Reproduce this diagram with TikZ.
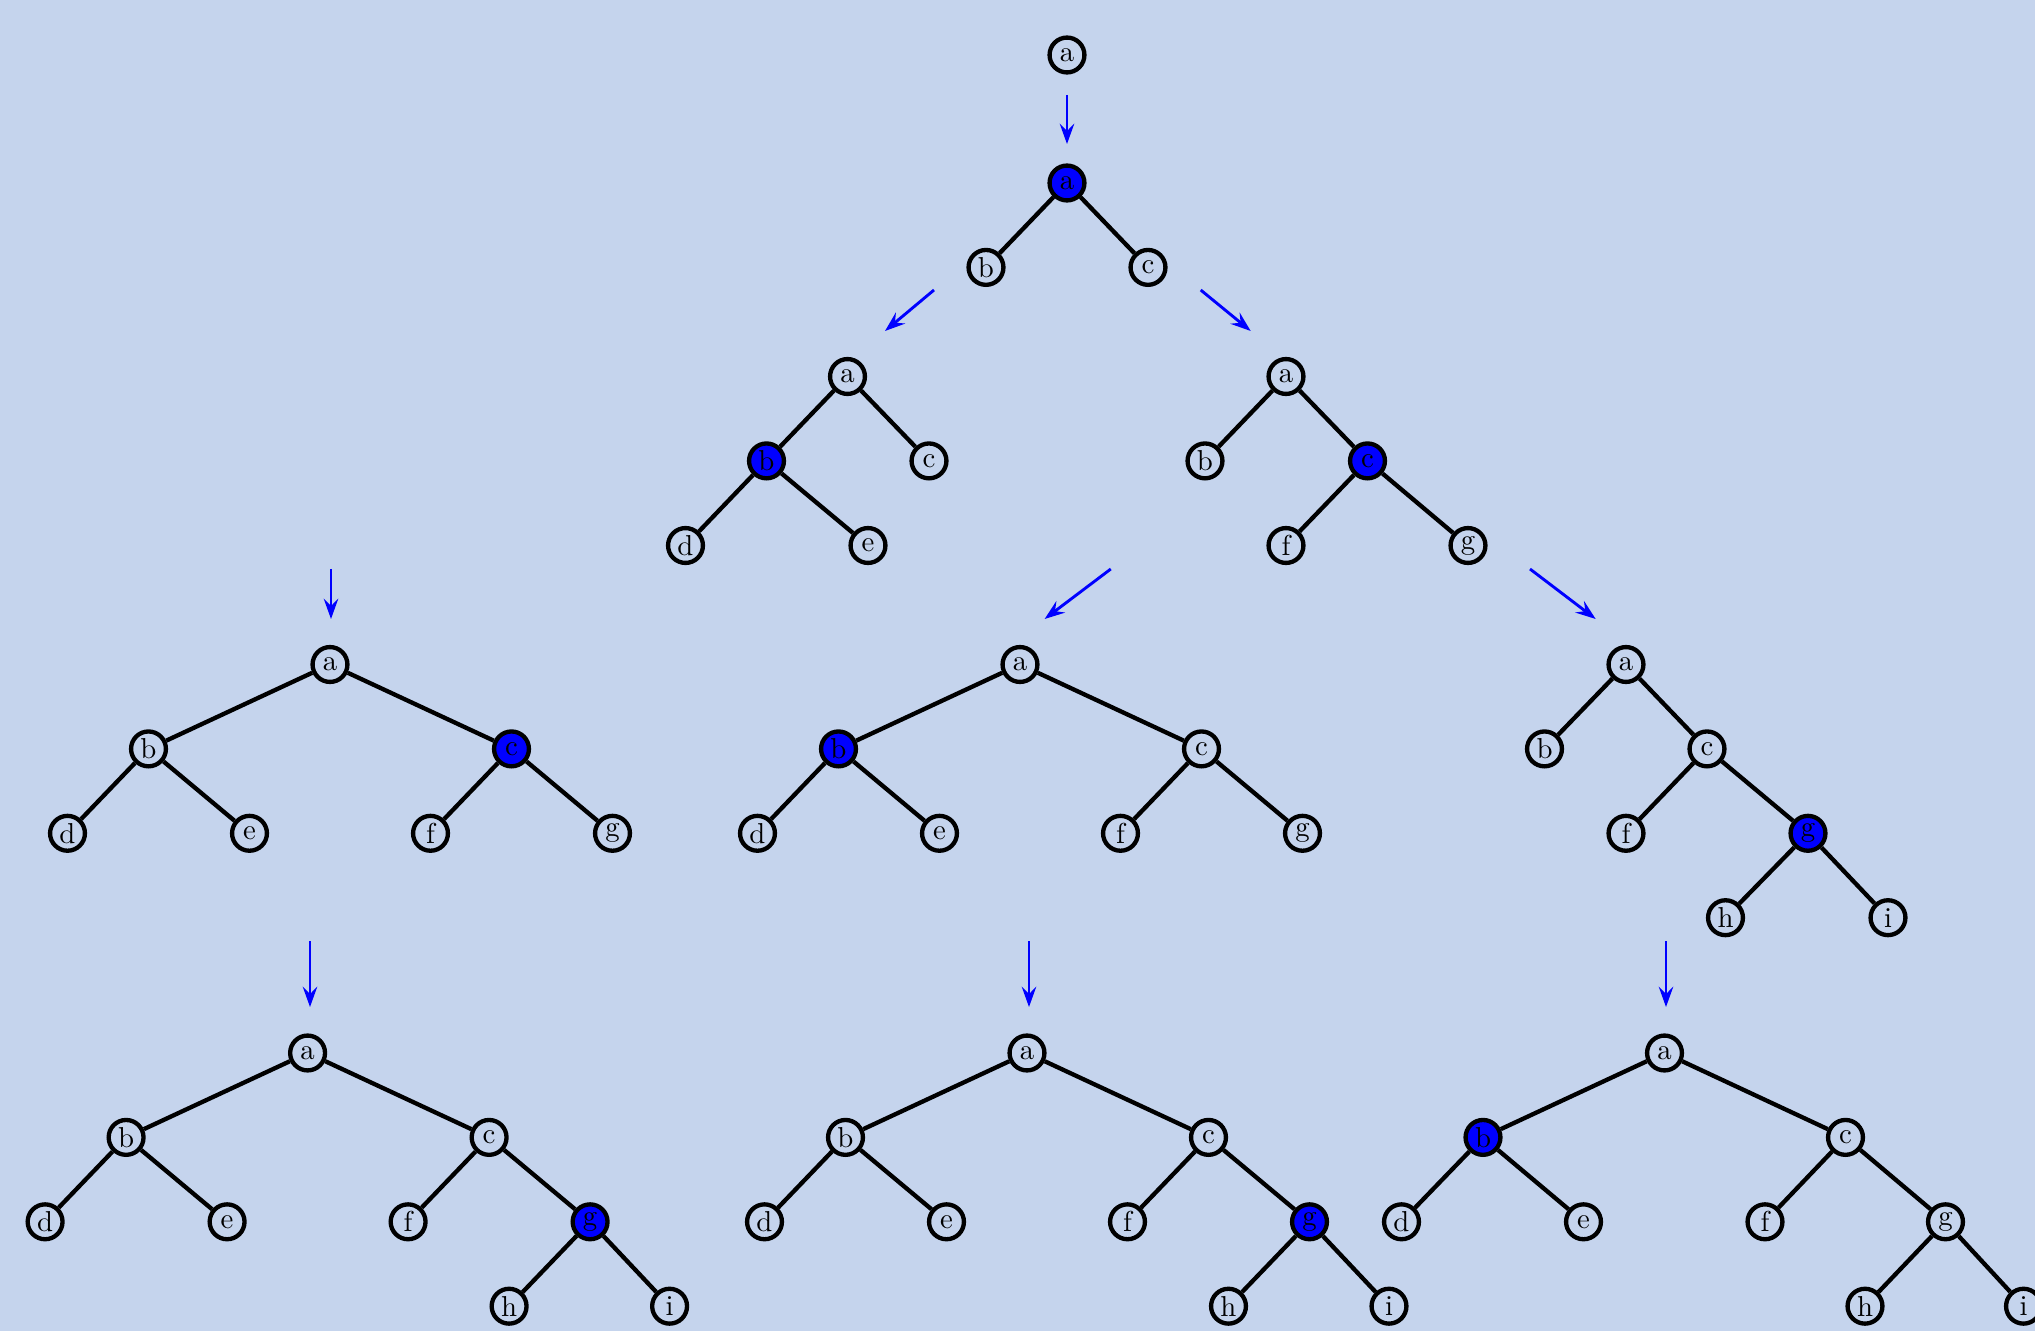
\documentclass[tikz,border=0pt]{standalone}
\usetikzlibrary{arrows.meta}
\definecolor{bgc}{RGB}{197,212,237}
\begin{document}
\begin{tikzpicture}[x=0.347pt,y=-0.347pt,
  nd/.style={circle,draw=black,line width=1.5pt,minimum size=12.1pt,inner sep=0pt,font=\normalsize},
  hl/.style={nd,fill=blue},
  edge/.style={line width=1.5pt},
  arr/.style={draw=blue,line width=1pt,-{Stealth[length=7pt,width=5pt,inset=2.5pt]}}]
\useasboundingbox (0,0) rectangle (2035,1331);
\fill[bgc] (0,0) rectangle (2035,1331);
\clip (0,0) rectangle (2035,1331);

% tree 0
\node[nd] (t0a) at (1067,55) {a};

% tree 1
\begin{scope}[shift={(1067,183)}]
\node[hl] (t1a) at (0,0) {a};
\node[nd] (t1b) at (-81,84.4) {b};
\node[nd] (t1c) at (81,84.4) {c};
\end{scope}
\draw[edge] (t1a) -- (t1b) (t1a) -- (t1c);

% tree 2
\begin{scope}[shift={(847.5,376.5)}]
\node[nd] (t2a) at (0,0) {a};
\node[hl] (t2b) at (-81,84.4) {b};
\node[nd] (t2c) at (81.5,84.4) {c};
\node[nd] (t2d) at (-162,169) {d};
\node[nd] (t2e) at (20.5,169) {e};
\end{scope}
\draw[edge] (t2a) -- (t2b) (t2a) -- (t2c) (t2b) -- (t2d) (t2b) -- (t2e);

% tree 3
\begin{scope}[shift={(1286,376.5)}]
\node[nd] (t3a) at (0,0) {a};
\node[nd] (t3b) at (-81,84.4) {b};
\node[hl] (t3c) at (81.5,84.4) {c};
\node[nd] (t3f) at (0,169) {f};
\node[nd] (t3g) at (182,169) {g};
\end{scope}
\draw[edge] (t3a) -- (t3b) (t3a) -- (t3c) (t3c) -- (t3f) (t3c) -- (t3g);

% tree 4
\begin{scope}[shift={(330,664.5)}]
\node[nd] (t4a) at (0,0) {a};
\node[nd] (t4b) at (-181.5,84.4) {b};
\node[hl] (t4c) at (181.5,84.4) {c};
\node[nd] (t4d) at (-262.5,168.8) {d};
\node[nd] (t4e) at (-80.5,168.8) {e};
\node[nd] (t4f) at (100.5,168.8) {f};
\node[nd] (t4g) at (282.5,168.8) {g};
\end{scope}
\draw[edge] (t4a) -- (t4b) (t4a) -- (t4c) (t4b) -- (t4d) (t4b) -- (t4e) (t4c) -- (t4f) (t4c) -- (t4g);

% tree 5
\begin{scope}[shift={(1020,664.5)}]
\node[nd] (t5a) at (0,0) {a};
\node[hl] (t5b) at (-181.5,84.4) {b};
\node[nd] (t5c) at (181.5,84.4) {c};
\node[nd] (t5d) at (-262.5,168.8) {d};
\node[nd] (t5e) at (-80.5,168.8) {e};
\node[nd] (t5f) at (100.5,168.8) {f};
\node[nd] (t5g) at (282.5,168.8) {g};
\end{scope}
\draw[edge] (t5a) -- (t5b) (t5a) -- (t5c) (t5b) -- (t5d) (t5b) -- (t5e) (t5c) -- (t5f) (t5c) -- (t5g);

% tree 6
\begin{scope}[shift={(1626,664.5)}]
\node[nd] (t6a) at (0,0) {a};
\node[nd] (t6b) at (-81.5,84.4) {b};
\node[nd] (t6c) at (81,84.4) {c};
\node[nd] (t6f) at (0,168.8) {f};
\node[hl] (t6g) at (182,168.8) {g};
\node[nd] (t6h) at (99.5,253.2) {h};
\node[nd] (t6i) at (262,253.2) {i};
\end{scope}
\draw[edge] (t6a) -- (t6b) (t6a) -- (t6c) (t6c) -- (t6f) (t6c) -- (t6g) (t6g) -- (t6h) (t6g) -- (t6i);

% tree 7
\begin{scope}[shift={(307.6,1053)}]
\node[nd] (t7a) at (0,0) {a};
\node[nd] (t7b) at (-181.5,84.4) {b};
\node[nd] (t7c) at (181.5,84.4) {c};
\node[nd] (t7d) at (-262.5,168.8) {d};
\node[nd] (t7e) at (-80.5,168.8) {e};
\node[nd] (t7f) at (100.5,168.8) {f};
\node[hl] (t7g) at (282.5,168.8) {g};
\node[nd] (t7h) at (201.5,253.2) {h};
\node[nd] (t7i) at (362,253.2) {i};
\end{scope}
\draw[edge] (t7a) -- (t7b) (t7a) -- (t7c) (t7b) -- (t7d) (t7b) -- (t7e) (t7c) -- (t7f) (t7c) -- (t7g) (t7g) -- (t7h) (t7g) -- (t7i);

% tree 8
\begin{scope}[shift={(1027,1053)}]
\node[nd] (t8a) at (0,0) {a};
\node[nd] (t8b) at (-181.5,84.4) {b};
\node[nd] (t8c) at (181.5,84.4) {c};
\node[nd] (t8d) at (-262.5,168.8) {d};
\node[nd] (t8e) at (-80.5,168.8) {e};
\node[nd] (t8f) at (100.5,168.8) {f};
\node[hl] (t8g) at (282.5,168.8) {g};
\node[nd] (t8h) at (201.5,253.2) {h};
\node[nd] (t8i) at (362,253.2) {i};
\end{scope}
\draw[edge] (t8a) -- (t8b) (t8a) -- (t8c) (t8b) -- (t8d) (t8b) -- (t8e) (t8c) -- (t8f) (t8c) -- (t8g) (t8g) -- (t8h) (t8g) -- (t8i);

% tree 9
\begin{scope}[shift={(1664.5,1053)}]
\node[nd] (t9a) at (0,0) {a};
\node[hl] (t9b) at (-181.5,84.4) {b};
\node[nd] (t9c) at (181,84.4) {c};
\node[nd] (t9d) at (-263,168.8) {d};
\node[nd] (t9e) at (-81,168.8) {e};
\node[nd] (t9f) at (100.5,168.8) {f};
\node[nd] (t9g) at (281,168.8) {g};
\node[nd] (t9h) at (200.5,253.2) {h};
\node[nd] (t9i) at (359,253.2) {i};
\end{scope}
\draw[edge] (t9a) -- (t9b) (t9a) -- (t9c) (t9b) -- (t9d) (t9b) -- (t9e) (t9c) -- (t9f) (t9c) -- (t9g) (t9g) -- (t9h) (t9g) -- (t9i);

% arrows
\coordinate (r0s) at (1067,95);   \coordinate (r0e) at (1067,144);
\coordinate (r1s) at (934,290);   \coordinate (r1e) at (885,331);
\coordinate (r2s) at (1200.7,290); \coordinate (r2e) at (1250.7,331);
\coordinate (r3s) at (331,569);   \coordinate (r3e) at (331,619);
\coordinate (r4s) at (1110.8,569); \coordinate (r4e) at (1044.6,619);
\coordinate (r5s) at (1530,569);  \coordinate (r5e) at (1595.7,619);
\coordinate (r6s) at (310,941);   \coordinate (r6e) at (310,1007);
\coordinate (r7s) at (1029,941);  \coordinate (r7e) at (1029,1007);
\coordinate (r8s) at (1666,941);  \coordinate (r8e) at (1666,1007);
\foreach \k in {0,...,8} { \draw[arr] (r\k s) -- (r\k e); }
\end{tikzpicture}
\end{document}
